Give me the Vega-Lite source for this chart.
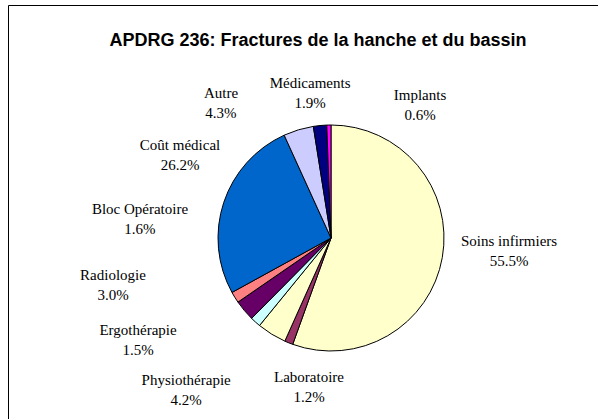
{
  "$schema": "https://vega.github.io/schema/vega-lite/v6.json",
  "width": 646,
  "height": 466,
  "autosize": "none",
  "padding": {"left": 8, "top": 5, "right": 0, "bottom": 0},
  "background": "white",
  "view": {"stroke": "black", "strokeWidth": 1, "fill": "white"},
  "title": {
    "text": "APDRG 236: Fractures de la hanche et du bassin",
    "font": "Liberation Sans",
    "fontSize": 18,
    "fontWeight": "bold",
    "color": "black",
    "anchor": "middle",
    "dx": -13,
    "offset": -45
  },
  "data": {
    "values": [
      {"cat": "Soins infirmiers", "share": 0.555, "rank": 1},
      {"cat": "Laboratoire", "share": 0.012, "rank": 2},
      {"cat": "Physiothérapie", "share": 0.042, "rank": 3},
      {"cat": "Ergothérapie", "share": 0.015, "rank": 4},
      {"cat": "Radiologie", "share": 0.030, "rank": 5},
      {"cat": "Bloc Opératoire", "share": 0.016, "rank": 6},
      {"cat": "Coût médical", "share": 0.262, "rank": 7},
      {"cat": "Autre", "share": 0.043, "rank": 8},
      {"cat": "Médicaments", "share": 0.019, "rank": 9},
      {"cat": "Implants", "share": 0.006, "rank": 10}
    ]
  },
  "transform": [
    {"calculate": "[datum.cat, format(datum.share, '.1%')]", "as": "label"}
  ],
  "config": {
    "text": {"font": "Liberation Serif", "fontSize": 15, "letterSpacing": 0.3, "lineHeight": 20, "baseline": "middle", "align": "center", "color": "black", "dy": -10}
  },
  "layer": [
    {
      "mark": {"type": "arc", "outerRadius": 113, "stroke": "black", "strokeWidth": 1},
      "encoding": {
        "theta": {"field": "share", "type": "quantitative", "stack": true},
        "order": {"field": "rank", "type": "quantitative"},
        "color": {
          "field": "cat",
          "type": "nominal",
          "legend": null,
          "scale": {
            "domain": ["Soins infirmiers", "Laboratoire", "Physiothérapie", "Ergothérapie", "Radiologie", "Bloc Opératoire", "Coût médical", "Autre", "Médicaments", "Implants"],
            "range": ["#FFFFCC", "#993366", "#FFFFCC", "#CCFFFF", "#660066", "#FF8080", "#0066CC", "#CCCCFF", "#000080", "#FF00FF"]
          }
        }
      }
    },
    {"transform": [{"filter": "datum.cat === 'Soins infirmiers'"}], "mark": {"type": "text", "theta": 1.644, "radius": 178.5}, "encoding": {"text": {"field": "label"}}},
    {"transform": [{"filter": "datum.cat === 'Laboratoire'"}], "mark": {"type": "text", "theta": 3.288, "radius": 150.6}, "encoding": {"text": {"field": "label"}}},
    {"transform": [{"filter": "datum.cat === 'Physiothérapie'"}], "mark": {"type": "text", "theta": 3.904, "radius": 209.7}, "encoding": {"text": {"field": "label"}}},
    {"transform": [{"filter": "datum.cat === 'Ergothérapie'"}], "mark": {"type": "text", "theta": 4.226, "radius": 218.3}, "encoding": {"text": {"field": "label"}}},
    {"transform": [{"filter": "datum.cat === 'Radiologie'"}], "mark": {"type": "text", "theta": 4.5, "radius": 223}, "encoding": {"text": {"field": "label"}}},
    {"transform": [{"filter": "datum.cat === 'Bloc Opératoire'"}], "mark": {"type": "text", "theta": 4.814, "radius": 192}, "encoding": {"text": {"field": "label"}}},
    {"transform": [{"filter": "datum.cat === 'Coût médical'"}], "mark": {"type": "text", "theta": 5.215, "radius": 172.3}, "encoding": {"text": {"field": "label"}}},
    {"transform": [{"filter": "datum.cat === 'Autre'"}], "mark": {"type": "text", "theta": 5.599, "radius": 174.1}, "encoding": {"text": {"field": "label"}}},
    {"transform": [{"filter": "datum.cat === 'Médicaments'"}], "mark": {"type": "text", "theta": 6.14, "radius": 146.5}, "encoding": {"text": {"field": "label"}}},
    {"transform": [{"filter": "datum.cat === 'Implants'"}], "mark": {"type": "text", "theta": 0.59, "radius": 160}, "encoding": {"text": {"field": "label"}}}
  ]
}
